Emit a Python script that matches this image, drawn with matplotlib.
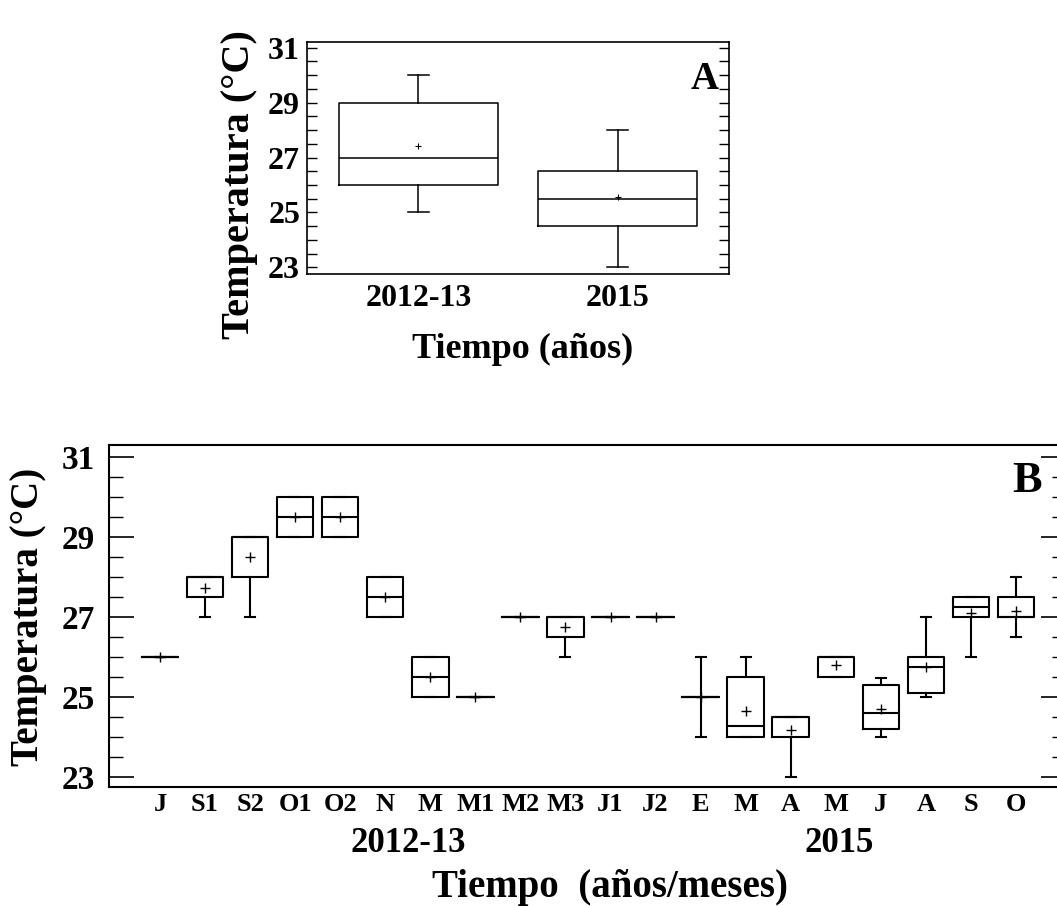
import matplotlib
matplotlib.use("Agg")
import matplotlib.pyplot as plt
from matplotlib.ticker import MultipleLocator, FixedLocator, NullLocator
import matplotlib.transforms as mtransforms

plt.rcParams['font.family'] = ['Liberation Serif', 'DejaVu Serif']
plt.rcParams['font.weight'] = 'bold'

# ---------------- Data: panel A (by year) ----------------
a_labels = ["2012-13", "2015"]
a_whislo = [25.0, 23.0]
a_q1 = [26.0, 24.5]
a_med = [27.0, 25.5]
a_q3 = [29.0, 26.5]
a_whishi = [30.0, 28.0]
a_mean = [27.42, 25.55]

# ---------------- Data: panel B (by month) ----------------
b_labels = ["J", "S1", "S2", "O1", "O2", "N", "M", "M1", "M2", "M3", "J1", "J2",
            "E", "M", "A", "M", "J", "A", "S", "O"]
b_whislo = [26.0, 27.0, 27.0, 29.0, 29.0, 27.0, 25.0, 25.0, 27.0, 26.0, 27.0, 27.0,
            24.0, 24.0, 23.0, 25.5, 24.0, 25.0, 26.0, 26.5]
b_q1 = [26.0, 27.5, 28.0, 29.0, 29.0, 27.0, 25.0, 25.0, 27.0, 26.5, 27.0, 27.0,
        25.0, 24.0, 24.0, 25.5, 24.2, 25.1, 27.0, 27.0]
b_med = [26.0, 28.0, 29.0, 29.5, 29.5, 27.5, 25.5, 25.0, 27.0, 27.0, 27.0, 27.0,
         25.0, 24.27, 24.5, 26.0, 24.58, 25.73, 27.23, 27.0]
b_q3 = [26.0, 28.0, 29.0, 30.0, 30.0, 28.0, 26.0, 25.0, 27.0, 27.0, 27.0, 27.0,
        25.0, 25.5, 24.5, 26.0, 25.28, 26.0, 27.5, 27.5]
b_whishi = [26.0, 28.0, 29.0, 30.0, 30.0, 28.0, 26.0, 25.0, 27.0, 27.0, 27.0, 27.0,
            26.0, 26.0, 24.5, 26.0, 25.47, 27.0, 27.5, 28.0]
b_mean = [26.0, 27.72, 28.49, 29.5, 29.5, 27.5, 25.5, 25.0, 27.0, 26.73, 27.0, 27.0,
          25.0, 24.65, 24.17, 25.79, 24.69, 25.75, 27.08, 27.14]

b_groups = ["2012-13", "2015"]
b_group_x = [6.5, 16.07]

y_major = [23, 25, 27, 29, 31]


def make_stats(lo, q1, med, q3, hi, mean):
    return [dict(whislo=l, q1=a, med=m, q3=b, whishi=h, mean=mn, fliers=[])
            for l, a, m, b, h, mn in zip(lo, q1, med, q3, hi, mean)]


fig = plt.figure(figsize=(10.57, 9.06), dpi=100)

# ---------------- Panel A ----------------
axA = fig.add_axes([0.2904, 0.6976, 0.3993, 0.2561])
statsA = make_stats(a_whislo, a_q1, a_med, a_q3, a_whishi, a_mean)
lwA = 1.1
axA.bxp(statsA, positions=range(1, len(statsA) + 1), widths=0.8, capwidths=0.105,
        showmeans=True, showfliers=False,
        boxprops=dict(color='black', linewidth=lwA),
        whiskerprops=dict(color='black', linewidth=lwA),
        capprops=dict(color='black', linewidth=lwA),
        medianprops=dict(color='black', linewidth=lwA),
        meanprops=dict(marker='+', markeredgecolor='black', markersize=4, markeredgewidth=0.8))
axA.set_xlim(0.44, 2.56)
axA.set_ylim(22.76, 31.21)
axA.yaxis.set_major_locator(FixedLocator(y_major))
axA.yaxis.set_minor_locator(MultipleLocator(0.5))
axA.set_xticks(range(1, len(a_labels) + 1))
axA.set_xticklabels(a_labels, fontsize=23, fontweight='bold')
axA.tick_params(axis='x', length=0, pad=7)
axA.tick_params(axis='y', which='both', direction='in', left=True, right=True,
                length=7.5, width=1.0, labelsize=23, pad=5)
for s in axA.spines.values():
    s.set_linewidth(1.2)
for lab in axA.get_yticklabels():
    lab.set_fontweight('bold')
axA.text(0.975, 0.92, "A", transform=axA.transAxes, ha='right', va='top',
         fontsize=28, fontweight='bold')
fig.text(0.494, 1 - 358 / 906, "Tiempo (años)", ha='center', va='baseline',
         fontsize=26, fontweight='bold')
fig.text(239 / 1057, 1 - 185 / 906, "Temperatura (°C)", rotation=90, ha='center',
         va='center', fontsize=29, fontweight='bold')

# ---------------- Panel B ----------------
axB = fig.add_axes([0.1031, 0.1313, 0.9054, 0.3775])
statsB = make_stats(b_whislo, b_q1, b_med, b_q3, b_whishi, b_mean)
lwB = 1.5
axB.bxp(statsB, positions=range(1, len(statsB) + 1), widths=0.81, capwidths=0.22,
        showmeans=True, showfliers=False,
        boxprops=dict(color='black', linewidth=lwB),
        whiskerprops=dict(color='black', linewidth=lwB),
        capprops=dict(color='black', linewidth=lwB),
        medianprops=dict(color='black', linewidth=lwB),
        meanprops=dict(marker='+', markeredgecolor='black', markersize=7, markeredgewidth=1.0))
axB.set_xlim(-0.132, 21.11)
axB.set_ylim(22.74, 31.29)
axB.yaxis.set_major_locator(FixedLocator(y_major))
axB.yaxis.set_minor_locator(MultipleLocator(0.5))
axB.set_xticks(range(1, len(b_labels) + 1))
axB.set_xticklabels(b_labels, fontsize=19, fontweight='bold')
axB.xaxis.set_minor_locator(NullLocator())
axB.tick_params(axis='x', length=0, pad=4)
axB.tick_params(axis='y', which='major', direction='in', left=True, right=True,
                length=18, width=1.2, labelsize=24, pad=10)
axB.tick_params(axis='y', which='minor', direction='in', left=True, right=True,
                length=10, width=1.0)
for s in axB.spines.values():
    s.set_linewidth(1.5)
for lab in axB.get_yticklabels():
    lab.set_fontweight('bold')

trans = mtransforms.blended_transform_factory(axB.transData, fig.transFigure)
for g, gx in zip(b_groups, b_group_x):
    axB.text(gx, 1 - 844 / 906, g, transform=trans, ha='center', va='center',
             fontsize=25, fontweight='bold')

axB.text(1027 / 1057, 1 - 481 / 906, "B", transform=fig.transFigure, ha='center',
         va='center', fontsize=32, fontweight='bold')
fig.text(610 / 1057, 1 - 887 / 906, "Tiempo  (años/meses)", ha='center', va='center',
         fontsize=28, fontweight='bold')
fig.text(29 / 1057, 1 - 617 / 906, "Temperatura (°C)", rotation=90, ha='center',
         va='center', fontsize=28, fontweight='bold')

fig.savefig("out.png", dpi=100)
